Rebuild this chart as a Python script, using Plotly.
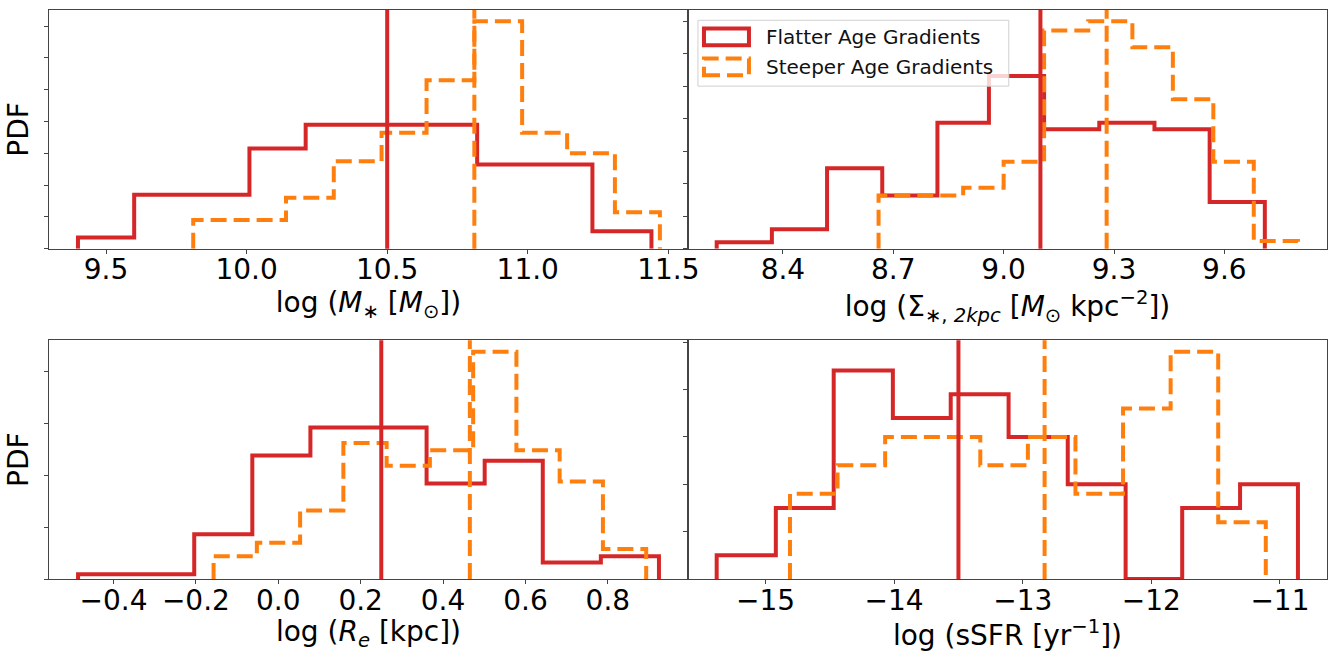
import plotly.graph_objects as go
from plotly.subplots import make_subplots

ROJO = '#d62728'
NARANJA = '#ff7f0e'
FUENTE = 'DejaVu Sans'

# log M* : bordes de bins y densidades
masa_bordes_plano = [9.40, 9.60, 9.81, 10.01, 10.21, 10.42, 10.62, 10.82, 11.03, 11.23, 11.44]
masa_pdf_plano = [0.07, 0.34, 0.34, 0.63, 0.78, 0.78, 0.78, 0.53, 0.53, 0.11]
masa_bordes_empinado = [9.81, 9.98, 10.14, 10.31, 10.48, 10.64, 10.81, 10.98, 11.14, 11.31, 11.47]
masa_pdf_empinado = [0.18, 0.18, 0.32, 0.55, 0.73, 1.06, 1.43, 0.73, 0.60, 0.23]
masa_medianas = [10.50, 10.81]
masa_ticks = [9.5, 10.0, 10.5, 11.0, 11.5]

# log Sigma_*,2kpc
sigma_bordes_plano = [8.22, 8.37, 8.52, 8.67, 8.82, 8.96, 9.11, 9.26, 9.41, 9.56, 9.71]
sigma_pdf_plano = [0.05, 0.15, 0.62, 0.41, 0.97, 1.33, 0.92, 0.97, 0.92, 0.36]
sigma_bordes_empinado = [8.66, 8.77, 8.89, 9.00, 9.11, 9.23, 9.35, 9.46, 9.57, 9.68, 9.80]
sigma_pdf_empinado = [0.41, 0.41, 0.47, 0.67, 1.68, 1.75, 1.55, 1.15, 0.67, 0.06]
sigma_medianas = [9.10, 9.28]
sigma_ticks = [8.4, 8.7, 9.0, 9.3, 9.6]

# log R_e
re_bordes_plano = [-0.486, -0.345, -0.204, -0.063, 0.078, 0.219, 0.360, 0.501, 0.642, 0.783, 0.924]
re_pdf_plano = [0.045, 0.045, 0.43, 1.19, 1.46, 1.46, 0.92, 1.14, 0.16, 0.22]
re_bordes_empinado = [-0.157, -0.052, 0.053, 0.158, 0.263, 0.368, 0.473, 0.578, 0.683, 0.788, 0.893]
re_pdf_empinado = [0.22, 0.35, 0.66, 1.31, 1.09, 1.24, 2.19, 1.24, 0.94, 0.29]
re_medianas = [0.25, 0.465]
re_ticks = [-0.4, -0.2, 0.0, 0.2, 0.4, 0.6, 0.8]

# log sSFR
ssfr_bordes_plano = [-15.38, -14.92, -14.47, -14.01, -13.56, -13.11, -12.65, -12.20, -11.76, -11.31, -10.86]
ssfr_pdf_plano = [0.05, 0.15, 0.44, 0.34, 0.39, 0.30, 0.20, 0.0, 0.15, 0.20]
ssfr_bordes_empinado = [-14.81, -14.44, -14.07, -13.70, -13.33, -12.96, -12.59, -12.22, -11.85, -11.48, -11.11]
ssfr_pdf_empinado = [0.18, 0.24, 0.30, 0.30, 0.24, 0.30, 0.18, 0.36, 0.48, 0.12]
ssfr_medianas = [-13.50, -12.83]
ssfr_ticks = [-15, -14, -13, -12, -11]


def escalones(bordes, pdf):
    # contorno tipo histtype='step'
    x = [bordes[0]] + list(bordes[:-1]) + [bordes[-1]]
    y = [0] + list(pdf) + [0]
    return x, y


paneles = [
    dict(fila=1, col=1, bp=masa_bordes_plano, pp=masa_pdf_plano, be=masa_bordes_empinado,
         pe=masa_pdf_empinado, med=masa_medianas, ticks=masa_ticks, fmt='.1f',
         xr=[9.297, 11.57], dy=0.2,
         titulo='log (<i>M</i><sub>∗</sub> [<i>M</i><sub>⊙</sub>])'),
    dict(fila=1, col=2, bp=sigma_bordes_plano, pp=sigma_pdf_plano, be=sigma_bordes_empinado,
         pe=sigma_pdf_empinado, med=sigma_medianas, ticks=sigma_ticks, fmt='.1f',
         xr=[8.142, 9.879], dy=0.25,
         titulo='log (Σ<sub>∗, <i>2kpc</i></sub> [<i>M</i><sub>⊙</sub> kpc<sup>−2</sup>])'),
    dict(fila=2, col=1, bp=re_bordes_plano, pp=re_pdf_plano, be=re_bordes_empinado,
         pe=re_pdf_empinado, med=re_medianas, ticks=re_ticks, fmt='.1f',
         xr=[-0.5565, 0.9945], dy=0.5,
         titulo='log (<i>R<sub>e</sub></i> [kpc])'),
    dict(fila=2, col=2, bp=ssfr_bordes_plano, pp=ssfr_pdf_plano, be=ssfr_bordes_empinado,
         pe=ssfr_pdf_empinado, med=ssfr_medianas, ticks=ssfr_ticks, fmt='d',
         xr=[-15.603, -10.634], dy=0.1,
         titulo='log (sSFR [yr<sup>−1</sup>])'),
]

fig = make_subplots(rows=2, cols=2, horizontal_spacing=0, vertical_spacing=0.161)

for p in paneles:
    x, y = escalones(p['bp'], p['pp'])
    fig.add_trace(go.Scatter(x=x, y=y, mode='lines', line_shape='hv',
                             line=dict(color=ROJO, width=4), showlegend=False),
                  row=p['fila'], col=p['col'])
    x, y = escalones(p['be'], p['pe'])
    fig.add_trace(go.Scatter(x=x, y=y, mode='lines', line_shape='hv',
                             line=dict(color=NARANJA, width=4, dash='16px,7px'), showlegend=False),
                  row=p['fila'], col=p['col'])
    fig.add_vline(x=p['med'][0], line=dict(color=ROJO, width=4), row=p['fila'], col=p['col'])
    fig.add_vline(x=p['med'][1], line=dict(color=NARANJA, width=4, dash='16px,7px'),
                  row=p['fila'], col=p['col'])

    ymax = 1.05 * max(max(p['pp']), max(p['pe']))
    fig.update_xaxes(range=p['xr'], tickvals=p['ticks'], tickformat=p['fmt'],
                     title=dict(text=p['titulo'], font=dict(size=28, color='black'), standoff=2),
                     row=p['fila'], col=p['col'])
    fig.update_yaxes(range=[0, ymax], tick0=0, dtick=p['dy'], showticklabels=False,
                     row=p['fila'], col=p['col'])
    if p['col'] == 1:
        fig.update_yaxes(title=dict(text='PDF', font=dict(size=28, color='black'), standoff=7),
                         row=p['fila'], col=p['col'])

fig.update_xaxes(showline=True, mirror=True, linecolor='#444', linewidth=1, ticks='outside',
                 ticklen=4, tickcolor='#444', showgrid=False, zeroline=False, automargin=False,
                 ticklabelstandoff=-8, tickfont=dict(size=28, color='black'))
fig.update_yaxes(showline=True, mirror=True, linecolor='#444', linewidth=1, ticks='outside',
                 ticklen=4, tickcolor='#444', showgrid=False, zeroline=False, automargin=False)

# leyenda dibujada a mano en el panel superior derecho
fig.add_shape(type='rect', xref='x2 domain', yref='y2 domain', x0=0.0156, x1=0.502, y0=0.681, y1=0.957,
              line=dict(color='#d0d0d0', width=1), fillcolor='rgba(255,255,255,0.8)', layer='above')
fig.add_shape(type='rect', xref='x2 domain', yref='y2 domain', x0=0.025, x1=0.0954, y0=0.8525, y1=0.922,
              line=dict(color=ROJO, width=4), layer='above')
fig.add_shape(type='rect', xref='x2 domain', yref='y2 domain', x0=0.025, x1=0.0954, y0=0.727, y1=0.797,
              line=dict(color=NARANJA, width=4, dash='16px,7px'), layer='above')
fig.add_annotation(xref='x2 domain', yref='y2 domain', x=0.1189, y=0.887, text='Flatter Age Gradients',
                   showarrow=False, xanchor='left', yanchor='middle', font=dict(size=20, color='#111'))
fig.add_annotation(xref='x2 domain', yref='y2 domain', x=0.1189, y=0.762, text='Steeper Age Gradients',
                   showarrow=False, xanchor='left', yanchor='middle', font=dict(size=20, color='#111'))

fig.update_layout(width=1328, height=652, margin=dict(l=49, r=1, t=10, b=73),
                  plot_bgcolor='white', paper_bgcolor='white',
                  font=dict(family=FUENTE, color='black'), showlegend=False)

# sin el margen por defecto del <body> y sin barra de herramientas
fig.write_html("out.html", config={'displayModeBar': False},
               post_script="document.body.style.margin='0px';")
